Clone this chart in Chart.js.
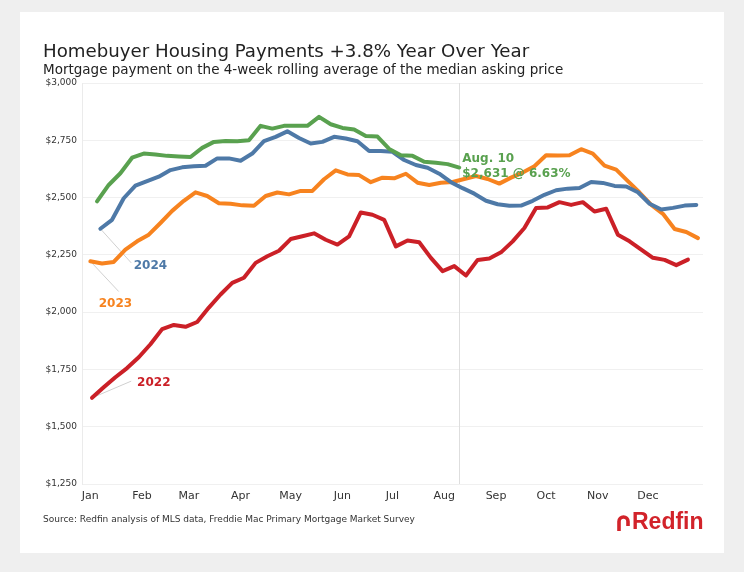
<!DOCTYPE html>
<html>
<head>
<meta charset="utf-8">
<script src="https://cdn.jsdelivr.net/npm/chart.js@4"></script>
<style>
  body { margin: 0; background: #efefef; font-family: "DejaVu Sans", sans-serif; }
  #card { position: absolute; left: 20px; top: 12px; width: 704px; height: 541px; background: #fff; }
  #chart { position: absolute; left: 0; top: 0; }
  .title { position: absolute; left: 23px; top: 30px; font-size: 18.2px; line-height: 18px; color: #222; white-space: nowrap; }
  .subtitle { position: absolute; left: 23px; top: 51px; font-size: 13.5px; line-height: 13.5px; color: #222; white-space: nowrap; }
  .source { position: absolute; left: 23px; top: 503px; font-size: 9px; line-height: 9px; color: #333; white-space: nowrap; }
  .logo { position: absolute; left: 596px; top: 498px; height: 23px; color: #d2232a; white-space: nowrap;
          font-family: "Liberation Sans", sans-serif; font-weight: bold; font-size: 23px; line-height: 23px; }
  .logo svg { vertical-align: -2px; margin-right: 1px; }
</style>
</head>
<body>
<div id="card">
  <canvas id="chart" width="704" height="541"></canvas>
  <div class="title">Homebuyer Housing Payments +3.8% Year Over Year</div>
  <div class="subtitle">Mortgage payment on the 4-week rolling average of the median asking price</div>
  <div class="source">Source: Redfin analysis of MLS data, Freddie Mac Primary Mortgage Market Survey</div>
  <div class="logo"><svg width="15" height="18" viewBox="0 0 15 18"><path d="M3 18 V8.5 A4.5 4.5 0 0 1 12 8.5 V13" fill="none" stroke="#d2232a" stroke-width="3.6"/></svg>Redfin</div>
</div>
<script>
// month ticks (day of year)
const monthLabels = ['Jan','Feb','Mar','Apr','May','Jun','Jul','Aug','Sep','Oct','Nov','Dec'];
const monthStartDays = [0,31,59,90,120,151,181,212,243,273,304,334];
const yTicks = [1250,1500,1750,2000,2250,2500,2750,3000];

// weekly readings, first week's day of year per year
const years = ['2025','2024','2023','2022'];
const firstDay = [4, 6, 0, 1];
const colors = ['#59a14f','#4e79a7','#f7831f','#cb2027'];

const pay2025 = [2483,2555,2606,2674,2692,2688,2682,2679,2677,2717,2743,2747,2746,2750,2813,2801,
  2813,2813,2813,2852,2820,2804,2797,2769,2766,2712,2685,2682,2656,2652,2646,2631];
const pay2024 = [2364,2403,2497,2552,2572,2591,2620,2632,2637,2639,2671,2671,2661,2692,2746,2765,
  2789,2760,2736,2743,2765,2758,2746,2703,2703,2700,2664,2642,2630,2604,2567,2541,
  2517,2486,2471,2464,2465,2486,2512,2532,2539,2542,2568,2564,2551,2548,2523,2473,
  2448,2455,2465,2468];
const pay2023 = [2222,2212,2219,2273,2309,2338,2389,2442,2486,2523,2507,2475,2473,2466,2464,2507,
  2522,2514,2529,2529,2580,2619,2601,2598,2567,2587,2584,2604,2565,2555,2565,2568,
  2581,2594,2581,2561,2587,2609,2637,2685,2684,2685,2711,2692,2639,2622,2572,2522,
  2468,2429,2363,2350,2323];
const pay2022 = [1626,1672,1716,1756,1803,1860,1926,1944,1936,1957,2020,2077,2128,2150,2215,2244,
  2268,2319,2331,2344,2316,2295,2331,2435,2425,2403,2287,2313,2305,2237,2179,2201,
  2160,2228,2234,2261,2309,2367,2454,2457,2480,2468,2480,2439,2451,2338,2309,2273,
  2237,2228,2205,2229];
const series = [pay2025, pay2024, pay2023, pay2022];

const latestDay = 221; // Aug. 10

// labels: [text, color, labelDay, labelValue, leaderDay, leaderValue]
const yearLabels = [
  ['2024', colors[1], 36, 2202, 24.5, 2215],
  ['2023', colors[2], 15, 2037, 17, 2090],
  ['2022', colors[3], 38, 1692, 24.5, 1699]
];

const labelPlugin = {
  id: 'labels',
  beforeDatasetsDraw(chart) {
    const {ctx, chartArea, scales: {x}} = chart;
    const px = Math.round(x.getPixelForValue(latestDay)) + 0.5;
    ctx.save();
    ctx.strokeStyle = '#dedede';
    ctx.lineWidth = 1;
    ctx.beginPath();
    ctx.moveTo(px, chartArea.top);
    ctx.lineTo(px, chartArea.bottom);
    ctx.stroke();
    // leader lines
    ctx.strokeStyle = '#d0d0d0';
    yearLabels.forEach((l) => {
      const i = years.indexOf(l[0]);
      ctx.beginPath();
      ctx.moveTo(x.getPixelForValue(firstDay[i]), chart.scales.y.getPixelForValue(series[i][0]));
      ctx.lineTo(x.getPixelForValue(l[4]), chart.scales.y.getPixelForValue(l[5]));
      ctx.stroke();
    });
    ctx.restore();
  },
  afterDatasetsDraw(chart) {
    const {ctx, scales: {x, y}} = chart;
    ctx.save();
    ctx.font = 'bold 12px "DejaVu Sans"';
    ctx.textAlign = 'center';
    ctx.textBaseline = 'middle';
    yearLabels.forEach((l) => {
      ctx.fillStyle = l[1];
      ctx.fillText(l[0], x.getPixelForValue(l[2]), y.getPixelForValue(l[3]));
    });
    const last = pay2025[pay2025.length - 1];
    ctx.fillStyle = colors[0];
    ctx.textAlign = 'left';
    const ax = x.getPixelForValue(latestDay) + 3;
    ctx.fillText('Aug. 10', ax, y.getPixelForValue(2669));
    ctx.fillText('$' + last.toLocaleString('en-US') + ' @ 6.63%', ax, y.getPixelForValue(2604));
    ctx.restore();
  }
};

new Chart(document.getElementById('chart'), {
  type: 'line',
  data: {
    datasets: series.map((vals, i) => ({
      label: years[i],
      data: vals.map((v, k) => ({x: firstDay[i] + 7 * k, y: v})),
      borderColor: colors[i],
      borderWidth: 4,
      pointRadius: 0,
      tension: 0,
      borderJoinStyle: 'round',
      borderCapStyle: 'round'
    }))
  },
  options: {
    responsive: false,
    animation: false,
    layout: {padding: {left: 0, right: 21, top: 71, bottom: 39}},
    plugins: {legend: {display: false}, tooltip: {enabled: false}},
    scales: {
      x: {
        type: 'linear', min: -5, max: 367,
        afterBuildTicks: (s) => { s.ticks = monthStartDays.map(v => ({value: v})); },
        afterFit: (s) => { s.height = 30; },
        grid: {display: false, drawTicks: false},
        border: {display: false},
        ticks: {
          padding: 6, color: '#333', font: {family: 'DejaVu Sans', size: 11},
          maxRotation: 0, autoSkip: false,
          callback: (v) => monthLabels[monthStartDays.indexOf(v)]
        }
      },
      y: {
        min: 1250, max: 3000,
        afterBuildTicks: (s) => { s.ticks = yTicks.map(v => ({value: v})); },
        afterFit: (s) => { s.width = 62; },
        grid: {color: '#f0f0f0', drawTicks: false},
        border: {color: '#ebebeb'},
        ticks: {
          padding: 5, color: '#333', font: {family: 'DejaVu Sans', size: 9},
          callback: (v) => '$' + v.toLocaleString('en-US')
        }
      }
    }
  },
  plugins: [labelPlugin]
});
</script>
</body>
</html>
